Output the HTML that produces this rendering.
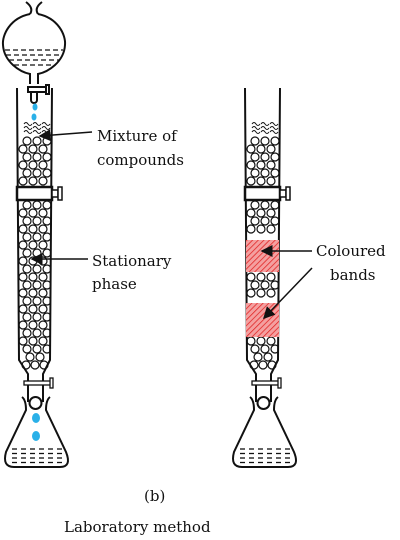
<!DOCTYPE html>
<html><head><meta charset="utf-8"><style>
html,body{margin:0;padding:0;background:#fff;width:400px;height:540px;overflow:hidden}
svg{display:block}
text{font-family:"DejaVu Serif","Liberation Serif",serif;font-size:15px;fill:#111}
</style></head><body>
<svg id="s" width="400" height="540" viewBox="0 0 400 540">
<defs>
<pattern id="hatch" width="4" height="4" patternUnits="userSpaceOnUse" patternTransform="rotate(45)">
<rect width="4" height="4" fill="#f4a0a0"/><line x1="0" y1="0" x2="0" y2="4" stroke="#e02020" stroke-width="1.5"/>
</pattern>
<marker id="ah" markerWidth="8" markerHeight="8" refX="7" refY="4" orient="auto"><path d="M0,0 L8,4 L0,8 z" fill="#111"/></marker>
<clipPath id="cl"><rect x="18" y="80" width="33" height="300"/></clipPath>
<clipPath id="cr"><rect x="246" y="80" width="33" height="300"/></clipPath>
</defs>
<g fill="none" stroke="#111" stroke-width="2">
<path d="M26,2 Q34,8 30,14 M42,2 Q34,8 38,14"/>
<path d="M30,14 C10,18 2,35 3,45 C4,62 20,72 30,74 L30,84 M38,14 C58,18 66,35 65,45 C64,62 48,72 38,74 L38,84"/>
<g stroke-width="1.3" stroke-dasharray="5,3"><line x1="5" y1="50" x2="63" y2="50"/><line x1="6" y1="55" x2="62" y2="55"/><line x1="9" y1="60" x2="59" y2="60"/><line x1="14" y1="65" x2="54" y2="65"/></g>
<rect x="28" y="87" width="18" height="5" fill="#fff"/><rect x="46" y="85" width="3" height="9"/>
<path d="M31,92 L31,100 A3,3 0 0 0 37,100 L37,92"/>
</g>
<g id="L"></g>
<g id="R"></g>
<g fill="#2ab0e8"><ellipse cx="35" cy="107" rx="2.5" ry="3.5"/><ellipse cx="34" cy="117" rx="2.5" ry="3.5"/></g>
<g fill="#2ab0e8"><ellipse cx="36" cy="418" rx="4" ry="5"/><ellipse cx="36" cy="436" rx="4" ry="5"/></g>
<rect x="246" y="240" width="33" height="32" fill="url(#hatch)"/>
<rect x="246" y="303" width="33" height="34" fill="url(#hatch)"/>
<g stroke="#111" stroke-width="1.5" fill="none">
<line x1="92" y1="132" x2="40" y2="136" marker-end="url(#ah)"/>
<line x1="88" y1="259" x2="32" y2="259" marker-end="url(#ah)"/>
<line x1="312" y1="251" x2="262" y2="251" marker-end="url(#ah)"/>
<line x1="312" y1="268" x2="264" y2="318" marker-end="url(#ah)"/>
</g>
<text x="97" y="141">Mixture of</text>
<text x="97" y="165">compounds</text>
<text x="92" y="266">Stationary</text>
<text x="92" y="289">phase</text>
<text x="316" y="256">Coloured</text>
<text x="330" y="280">bands</text>
<text x="144" y="501">(b)</text>
<text x="64" y="532">Laboratory method</text>
</svg>
<script>
var NS='http://www.w3.org/2000/svg';
function mk(p,t,a){var e=document.createElementNS(NS,t);for(var k in a)e.setAttribute(k,a[k]);p.appendChild(e);return e;}
function column(g,dx,skip,clip){
  var st={fill:'none',stroke:'#111','stroke-width':2};
  for(var i=0;i<3;i++)mk(g,'path',{d:'M'+(24+dx+i*9)+','+(124)+' q2,-3 4,0 q2,3 4,0 M'+(24+dx+i*9)+',128 q2,-3 4,0 q2,3 4,0 M'+(24+dx+i*9)+',132 q2,-3 4,0 q2,3 4,0',fill:'none',stroke:'#111','stroke-width':1});
  var bg=mk(g,'g',{'clip-path':'url(#'+clip+')'});
  var row=0;
  for(var y=141;y<366;y+=8,row++){
    if(y>182&&y<205)continue;
    var sk=false;skip.forEach(function(r){if(y>r[0]-4&&y<r[1]+4)sk=true;});if(sk)continue;
    var xs;
    if(y>352)xs=row%2?[30,40]:[26,35,44];
    else xs=row%2?[23,33,43]:[27,37,47];
    xs.forEach(function(x){mk(bg,'circle',{cx:x+dx,cy:y,r:4,fill:'#fff',stroke:'#111','stroke-width':1.2});});
  }
  mk(g,'path',Object.assign({d:'M'+(17+dx)+',88 L'+(19+dx)+',360 L'+(28+dx)+',374 L'+(28+dx)+',402 M'+(52+dx)+',88 L'+(50+dx)+',360 L'+(43+dx)+',374 L'+(43+dx)+',402'},st));
  mk(g,'circle',{cx:35.5+dx,cy:403,r:6,fill:'none',stroke:'#111','stroke-width':2});
  mk(g,'rect',{x:17+dx,y:187,width:35,height:13,fill:'#fff',stroke:'#111','stroke-width':2.5});
  mk(g,'rect',{x:52+dx,y:190,width:6,height:7,fill:'#fff',stroke:'#111','stroke-width':1.5});
  mk(g,'rect',{x:58+dx,y:187,width:4,height:13,fill:'#fff',stroke:'#111','stroke-width':1.5});
  mk(g,'rect',{x:24+dx,y:381,width:27,height:4,fill:'#fff',stroke:'#111','stroke-width':1.3});
  mk(g,'rect',{x:50+dx,y:378,width:3,height:10,fill:'#fff',stroke:'#111','stroke-width':1.3});
  mk(g,'path',{d:'M'+(22+dx)+',397 Q'+(26+dx)+',400 '+(26+dx)+',410 L'+(6+dx)+',452 Q'+(2+dx)+',467 '+(14+dx)+',467 L'+(60+dx)+',467 Q'+(72+dx)+',467 '+(66+dx)+',452 L'+(46+dx)+',410 Q'+(46+dx)+',400 '+(50+dx)+',397',fill:'none',stroke:'#111','stroke-width':2});
  for(var r=0;r<4;r++)for(var c=0;c<6;c++)mk(g,'line',{x1:12+dx+c*9,y1:449+r*4.5,x2:17+dx+c*9,y2:449+r*4.5,stroke:'#111','stroke-width':1.3});
}
column(document.getElementById('L'),0,[],'cl');
column(document.getElementById('R'),228,[[240,272],[303,337]],'cr');
</script>
</body></html>
